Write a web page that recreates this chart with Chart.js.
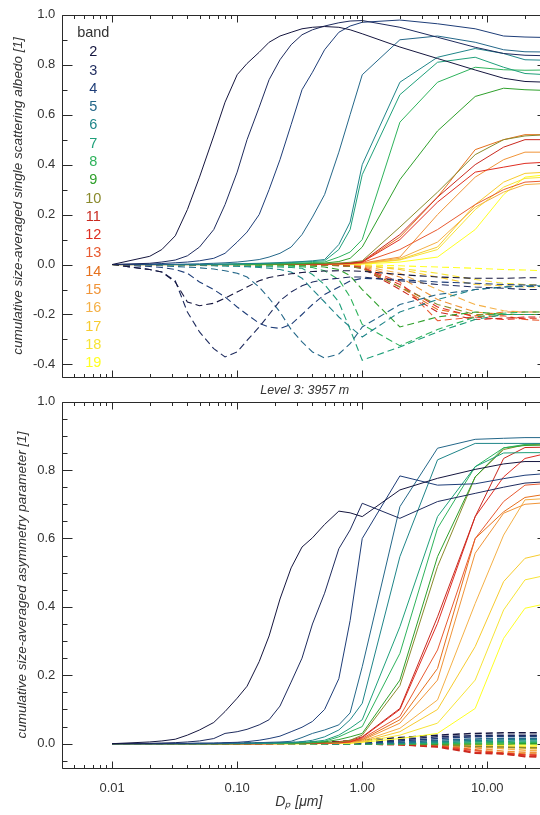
<!DOCTYPE html>
<html><head><meta charset="utf-8">
<script src="https://cdn.jsdelivr.net/npm/chart.js@4.4.0/dist/chart.umd.min.js"></script>
<style>
html,body{margin:0;padding:0;background:#fff;overflow:hidden;width:540px;height:815px;}
#w1{position:absolute;left:0;top:0;width:560px;height:400px;}
#w2{position:absolute;left:0;top:380px;width:560px;height:435px;}
</style></head><body>
<div id="w1"><canvas id="c1" width="560" height="400"></canvas></div>
<div id="w2"><canvas id="c2" width="560" height="435"></canvas></div>
<script>
// particle diameter nodes [µm]
const dp = [0.01,0.02,0.025,0.032,0.04,0.05,0.065,0.08,0.1,0.12,0.15,0.18,0.22,0.27,0.33,0.4,0.5,0.65,0.8,1.0,2.0,4.0,8.0,13.5,20,30];
const bands = [2,3,4,5,6,7,8,9,10,11,12,13,14,15,16,17,18,19];
const bandColors = ['#15163f','#1e2b5e','#1e3d78','#246789','#1f8589','#1fa07a','#2eb35c','#2fa02c','#8a8a2c','#c9291f','#df2e22','#e85a30','#e6701c','#f09438','#f4b046','#f7cb2e','#f7e436','#ffff22'];
const xTickVals = [0.01,0.1,1,10];
const xTickLabels = ['0.01','0.10','1.00','10.00'];
const yTicksTop = [-0.4,-0.2,0,0.2,0.4,0.6,0.8,1.0];
const yTicksBot = [0,0.2,0.4,0.6,0.8,1.0];

// top panel: single scattering albedo, solid
const ssaS2 = [0,.033,.06,.115,.22,.35,.515,.65,.76,.805,.85,.89,.915,.93,.944,.95,.953,.95,.94,.924,.871,.825,.779,.746,.733,.73];
const ssaS3 = [0,.005,.01,.018,.035,.07,.14,.24,.37,.5,.63,.74,.82,.88,.92,.94,.955,.968,.975,.977,.95,.91,.87,.845,.838,.836];
const ssaS4 = [0,.002,.004,.007,.01,.015,.025,.045,.09,.13,.2,.3,.42,.56,.7,.77,.86,.93,.955,.97,.979,.964,.944,.915,.911,.909];
const ssaS5 = [0,0,0,.001,.002,.003,.005,.007,.01,.014,.02,.03,.045,.07,.12,.19,.28,.45,.6,.76,.9,.915,.89,.86,.852,.851];
const ssaS6 = [0,0,0,0,0,0,.001,.002,.003,.004,.005,.006,.008,.01,.012,.015,.02,.08,.17,.40,.73,.83,.865,.845,.82,.818];
const ssaS7 = [0,0,0,0,0,0,.001,.001,.002,.003,.004,.005,.006,.008,.01,.012,.015,.06,.14,.36,.68,.81,.83,.79,.765,.76];
const ssaS8 = [0,0,0,0,0,0,0,.001,.001,.002,.002,.003,.004,.005,.006,.008,.01,.03,.05,.10,.57,.73,.79,.78,.778,.779];
const ssaS9 = [0,0,0,0,0,0,0,0,.001,.001,.001,.002,.002,.003,.004,.005,.006,.012,.025,.07,.34,.535,.673,.706,.70,.697];
const ssaS10 = [0,0,0,0,0,0,0,0,0,0,.001,.001,.001,.002,.002,.003,.004,.006,.009,.015,.15,.29,.44,.50,.515,.52];
const ssaS11 = [0,0,0,0,0,0,0,0,0,0,0,.001,.001,.001,.002,.002,.003,.004,.006,.012,.12,.27,.40,.47,.50,.50];
const ssaS12 = [0,0,0,0,0,0,0,0,0,0,0,0,.001,.001,.001,.002,.002,.003,.005,.01,.10,.25,.37,.39,.405,.41];
const ssaS13 = [0,0,0,0,0,0,0,0,0,0,0,0,.001,.001,.001,.001,.002,.003,.004,.008,.06,.14,.24,.30,.33,.335];
const ssaS14 = [0,0,0,0,0,0,0,0,0,0,0,0,.001,.001,.001,.002,.002,.003,.005,.01,.11,.27,.46,.50,.52,.52];
const ssaS15 = [0,0,0,0,0,0,0,0,0,0,0,0,0,.001,.001,.001,.001,.002,.003,.006,.03,.20,.35,.42,.45,.45];
const ssaS16 = [0,0,0,0,0,0,0,0,0,0,0,0,0,0,.001,.001,.001,.002,.003,.005,.025,.09,.23,.29,.32,.325];
const ssaS17 = [0,0,0,0,0,0,0,0,0,0,0,0,0,0,0,.001,.001,.001,.002,.004,.02,.07,.24,.33,.365,.37];
const ssaS18 = [0,0,0,0,0,0,0,0,0,0,0,0,0,0,0,0,.001,.001,.002,.003,.018,.06,.22,.31,.345,.35];
const ssaS19 = [0,0,0,0,0,0,0,0,0,0,0,0,0,0,0,0,0,.001,.001,.002,.01,.03,.14,.28,.35,.36];
// top panel, dashed
const ssaD2 = [0,-.02,-.03,-.07,-.15,-.165,-.155,-.135,-.11,-.09,-.065,-.052,-.044,-.037,-.032,-.028,-.026,-.025,-.025,-.027,-.04,-.05,-.055,-.055,-.053,-.053];
const ssaD3 = [0,-.02,-.03,-.065,-.19,-.27,-.337,-.37,-.35,-.304,-.25,-.2,-.145,-.11,-.085,-.07,-.06,-.055,-.05,-.05,-.065,-.08,-.09,-.095,-.1,-.1];
const ssaD4 = [0,-.008,-.012,-.02,-.035,-.07,-.1,-.13,-.17,-.2,-.235,-.25,-.256,-.24,-.2,-.16,-.12,-.09,-.066,-.055,-.06,-.07,-.075,-.08,-.082,-.083];
const ssaD5 = [0,-.003,-.005,-.008,-.01,-.013,-.018,-.025,-.035,-.05,-.09,-.135,-.19,-.26,-.31,-.35,-.374,-.358,-.317,-.25,-.16,-.12,-.1,-.09,-.088,-.088];
const ssaD6 = [0,-.001,-.002,-.002,-.003,-.004,-.005,-.006,-.007,-.009,-.012,-.015,-.02,-.03,-.055,-.1,-.15,-.21,-.25,-.29,-.19,-.14,-.1,-.09,-.085,-.085];
const ssaD7 = [0,-.001,-.001,-.002,-.002,-.003,-.004,-.005,-.006,-.007,-.008,-.009,-.01,-.012,-.015,-.04,-.08,-.15,-.26,-.383,-.33,-.27,-.22,-.2,-.2,-.2];
const ssaD8 = [0,0,0,-.001,-.001,-.001,-.002,-.002,-.003,-.003,-.004,-.005,-.006,-.007,-.009,-.012,-.025,-.06,-.13,-.24,-.325,-.26,-.21,-.195,-.19,-.19];
const ssaD9 = [0,0,0,0,0,-.001,-.001,-.001,-.001,-.002,-.002,-.003,-.003,-.004,-.005,-.007,-.01,-.02,-.045,-.1,-.25,-.21,-.19,-.2,-.2,-.2];
const ssaD10 = [0,0,0,0,0,0,0,0,0,0,0,0,-.001,-.001,-.001,-.002,-.003,-.005,-.008,-.015,-.09,-.16,-.2,-.2,-.2,-.2];
const ssaD11 = [0,0,0,0,0,0,0,0,0,0,0,0,-.001,-.001,-.001,-.002,-.003,-.005,-.008,-.015,-.1,-.19,-.22,-.215,-.21,-.21];
const ssaD12 = [0,0,0,0,0,0,0,0,0,0,0,0,0,-.001,-.001,-.001,-.002,-.004,-.007,-.012,-.08,-.17,-.21,-.22,-.215,-.215];
const ssaD13 = [0,0,0,0,0,0,0,0,0,0,0,0,0,-.001,-.001,-.001,-.002,-.003,-.006,-.01,-.07,-.225,-.21,-.205,-.22,-.225];
const ssaD14 = [0,0,0,0,0,0,0,0,0,0,0,0,0,-.001,-.001,-.001,-.002,-.004,-.007,-.012,-.09,-.18,-.205,-.19,-.19,-.19];
const ssaD15 = [0,0,0,0,0,0,0,0,0,0,0,0,0,0,-.001,-.001,-.001,-.002,-.004,-.008,-.05,-.14,-.19,-.2,-.2,-.2];
const ssaD16 = [0,0,0,0,0,0,0,0,0,0,0,0,0,0,-.001,-.001,-.001,-.002,-.003,-.006,-.035,-.1,-.16,-.185,-.19,-.19];
const ssaD17 = [0,0,0,0,0,0,0,0,0,0,0,0,0,0,0,-.001,-.001,-.001,-.002,-.004,-.02,-.05,-.08,-.085,-.09,-.09];
const ssaD18 = [0,0,0,0,0,0,0,0,0,0,0,0,0,0,0,0,-.001,-.001,-.002,-.003,-.015,-.035,-.06,-.075,-.08,-.082];
const ssaD19 = [0,0,0,0,0,0,0,0,0,0,0,0,0,0,0,0,0,0,-.001,-.001,-.005,-.01,-.015,-.02,-.022,-.025];
// bottom panel: asymmetry parameter, solid
const asyS2 = [0,.005,.008,.013,.025,.04,.062,.094,.133,.168,.24,.315,.423,.514,.575,.602,.641,.68,.675,.664,.742,.776,.802,.818,.825,.825];
const asyS3 = [0,.001,.002,.003,.005,.008,.015,.03,.035,.042,.055,.07,.11,.18,.25,.35,.44,.57,.625,.703,.659,.708,.732,.75,.762,.766];
const asyS4 = [0,0,0,.001,.001,.002,.002,.003,.004,.006,.01,.015,.022,.035,.048,.065,.1,.19,.36,.6,.783,.756,.76,.775,.785,.79];
const asyS5 = [0,0,0,0,0,0,.001,.001,.002,.002,.003,.004,.005,.007,.018,.03,.04,.055,.09,.225,.693,.864,.89,.893,.895,.895];
const asyS6 = [0,0,0,0,0,0,0,.001,.001,.001,.002,.002,.003,.004,.006,.01,.02,.04,.07,.118,.547,.83,.878,.878,.878,.878];
const asyS7 = [0,0,0,0,0,0,0,0,.001,.001,.001,.001,.002,.003,.004,.006,.01,.025,.045,.07,.342,.664,.81,.85,.851,.851];
const asyS8 = [0,0,0,0,0,0,0,0,0,.001,.001,.001,.001,.002,.003,.004,.007,.02,.035,.05,.264,.63,.81,.865,.875,.878];
const asyS9 = [0,0,0,0,0,0,0,0,0,0,.001,.001,.001,.001,.002,.003,.005,.012,.02,.03,.186,.547,.78,.865,.872,.873];
const asyS10 = [0,0,0,0,0,0,0,0,0,0,0,.001,.001,.001,.001,.002,.003,.004,.01,.025,.17,.518,.78,.86,.874,.876];
const asyS11 = [0,0,0,0,0,0,0,0,0,0,0,.001,.001,.001,.001,.002,.003,.006,.01,.02,.103,.371,.664,.834,.866,.867];
const asyS12 = [0,0,0,0,0,0,0,0,0,0,0,0,.001,.001,.001,.001,.002,.003,.005,.018,.1,.352,.664,.78,.834,.849];
const asyS13 = [0,0,0,0,0,0,0,0,0,0,0,0,.001,.001,.001,.001,.002,.004,.008,.015,.08,.274,.6,.708,.756,.761];
const asyS14 = [0,0,0,0,0,0,0,0,0,0,0,0,0,.001,.001,.001,.001,.002,.006,.012,.07,.22,.6,.678,.72,.73];
const asyS15 = [0,0,0,0,0,0,0,0,0,0,0,0,0,.001,.001,.001,.001,.002,.005,.01,.06,.186,.557,.674,.70,.705];
const asyS16 = [0,0,0,0,0,0,0,0,0,0,0,0,0,0,.001,.001,.001,.002,.004,.008,.045,.128,.41,.61,.713,.717];
const asyS17 = [0,0,0,0,0,0,0,0,0,0,0,0,0,0,0,.001,.001,.001,.003,.006,.035,.1,.284,.474,.542,.557];
const asyS18 = [0,0,0,0,0,0,0,0,0,0,0,0,0,0,0,0,.001,.001,.002,.005,.025,.06,.186,.391,.479,.493];
const asyS19 = [0,0,0,0,0,0,0,0,0,0,0,0,0,0,0,0,0,.001,.001,.004,.015,.03,.103,.308,.396,.41];
// bottom panel, dashed
const asyD2 = [0,0,0,0,0,0,0,.001,.001,.001,.002,.002,.003,.003,.004,.005,.005,.006,.008,.01,.018,.025,.03,.032,.032,.032];
const asyD3 = [0,0,0,0,0,0,0,0,0,.001,.001,.001,.002,.002,.002,.003,.003,.004,.004,.005,.012,.02,.024,.025,.025,.025];
const asyD4 = [0,0,0,0,0,0,0,0,0,0,0,0,.001,.001,.001,.001,.002,.002,.002,.003,.008,.015,.02,.021,.022,.022];
const asyD5 = [0,0,0,0,0,0,0,0,0,0,0,0,0,0,0,.001,.001,.001,.001,.002,.004,.01,.014,.015,.016,.016];
const asyD6 = [0,0,0,0,0,0,0,0,0,0,0,0,0,0,0,0,0,0,.001,.001,.002,.006,.01,.011,.012,.012];
const asyD7 = [0,0,0,0,0,0,0,0,0,0,0,0,0,0,0,0,0,0,0,0,.001,.003,.006,.007,.008,.008];
const asyD8 = [0,0,0,0,0,0,0,0,0,0,0,0,0,0,0,0,0,0,0,0,0,.001,.002,.003,.004,.004];
const asyD9 = [0,0,0,0,0,0,0,0,0,0,0,0,0,0,0,0,0,0,0,0,0,-.001,-.001,-.001,0,0];
const asyD10 = [0,0,0,0,0,0,0,0,0,0,0,0,0,0,0,0,0,0,0,0,-.001,-.003,-.008,-.01,-.012,-.012];
const asyD11 = [0,0,0,0,0,0,0,0,0,0,0,0,0,0,0,0,0,0,0,-.001,-.003,-.01,-.028,-.03,-.038,-.04];
const asyD12 = [0,0,0,0,0,0,0,0,0,0,0,0,0,0,0,0,0,0,0,-.001,-.003,-.008,-.025,-.028,-.033,-.035];
const asyD13 = [0,0,0,0,0,0,0,0,0,0,0,0,0,0,0,0,0,0,0,-.001,-.002,-.006,-.02,-.03,-.036,-.038];
const asyD14 = [0,0,0,0,0,0,0,0,0,0,0,0,0,0,0,0,0,0,0,0,-.002,-.005,-.018,-.027,-.03,-.03];
const asyD15 = [0,0,0,0,0,0,0,0,0,0,0,0,0,0,0,0,0,0,0,0,-.001,-.003,-.012,-.022,-.025,-.025];
const asyD16 = [0,0,0,0,0,0,0,0,0,0,0,0,0,0,0,0,0,0,0,0,-.001,-.002,-.008,-.015,-.019,-.02];
const asyD17 = [0,0,0,0,0,0,0,0,0,0,0,0,0,0,0,0,0,0,0,0,0,-.001,-.004,-.01,-.013,-.015];
const asyD18 = [0,0,0,0,0,0,0,0,0,0,0,0,0,0,0,0,0,0,0,0,0,0,-.002,-.006,-.009,-.01];
const asyD19 = [0,0,0,0,0,0,0,0,0,0,0,0,0,0,0,0,0,0,0,0,0,0,-.001,-.003,-.004,-.005];

const ssaSolid = [ssaS2,ssaS3,ssaS4,ssaS5,ssaS6,ssaS7,ssaS8,ssaS9,ssaS10,ssaS11,ssaS12,ssaS13,ssaS14,ssaS15,ssaS16,ssaS17,ssaS18,ssaS19];
const ssaDash = [ssaD2,ssaD3,ssaD4,ssaD5,ssaD6,ssaD7,ssaD8,ssaD9,ssaD10,ssaD11,ssaD12,ssaD13,ssaD14,ssaD15,ssaD16,ssaD17,ssaD18,ssaD19];
const asySolid = [asyS2,asyS3,asyS4,asyS5,asyS6,asyS7,asyS8,asyS9,asyS10,asyS11,asyS12,asyS13,asyS14,asyS15,asyS16,asyS17,asyS18,asyS19];
const asyDash = [asyD2,asyD3,asyD4,asyD5,asyD6,asyD7,asyD8,asyD9,asyD10,asyD11,asyD12,asyD13,asyD14,asyD15,asyD16,asyD17,asyD18,asyD19];

const FONT = '"Liberation Sans", Arial, Helvetica, sans-serif';
const INK = '#333';

function toPts(arr){ return arr.map((v,i)=>({x:dp[i], y:v})); }
function buildSets(solid, dash, dashWidth){
  const sets = [];
  bands.forEach((b,i)=>{
    sets.push({label:'band '+b, data:toPts(solid[i]), borderColor:bandColors[i], borderWidth:1, pointRadius:0, fill:false, tension:0});
  });
  bands.forEach((b,i)=>{
    sets.push({label:'band '+b+' dashed', data:toPts(dash[i]), borderColor:bandColors[i], borderWidth:dashWidth, borderDash:[7,4], pointRadius:0, fill:false, tension:0});
  });
  return sets;
}

// frame with inward tick marks, computed through the chart scales
const frameTicks = {
  id:'frameTicks',
  afterDatasetsDraw(chart, args, opts){
    const {ctx, chartArea:a, scales:{x, y}} = chart;
    ctx.save();
    ctx.strokeStyle = '#2a2a2a';
    ctx.lineWidth = 1;
    ctx.beginPath();
    const L = Math.round(a.left)+0.5, R = Math.round(a.right)+0.5, T = Math.round(a.top)+0.5, B = Math.round(a.bottom)+0.5;
    ctx.moveTo(L,T); ctx.lineTo(R,T); ctx.lineTo(R,B); ctx.lineTo(L,B); ctx.closePath();
    const xmaj = [], xmin = [];
    for (let e=-3; e<=1; e++){
      for (let k=1;k<=9;k++){
        const v = k*Math.pow(10,e);
        if (v < x.min*0.999 || v > x.max*1.001) continue;
        (k===1 ? xmaj : xmin).push(v);
      }
    }
    xmaj.forEach(v=>{ const px = Math.round(x.getPixelForValue(v))+0.5; ctx.moveTo(px,B); ctx.lineTo(px,B-7); ctx.moveTo(px,T); ctx.lineTo(px,T+7); });
    xmin.forEach(v=>{ const px = Math.round(x.getPixelForValue(v))+0.5; ctx.moveTo(px,B); ctx.lineTo(px,B-3.5); ctx.moveTo(px,T); ctx.lineTo(px,T+3.5); });
    opts.yMajor.forEach(v=>{ const py = Math.round(y.getPixelForValue(v))+0.5; ctx.moveTo(L,py); ctx.lineTo(L+10,py); ctx.moveTo(R,py); ctx.lineTo(R-10,py); });
    opts.yMinor.forEach(v=>{ const py = Math.round(y.getPixelForValue(v))+0.5; ctx.moveTo(L,py); ctx.lineTo(L+5,py); ctx.moveTo(R,py); ctx.lineTo(R-5,py); });
    ctx.stroke();
    ctx.restore();
  }
};

const bandLegend = {
  id:'bandLegend',
  afterDraw(chart){
    const {ctx, chartArea:a} = chart;
    ctx.save();
    ctx.font = '14.5px '+FONT;
    ctx.textAlign = 'center';
    ctx.textBaseline = 'middle';
    ctx.fillStyle = INK;
    const cx = a.left + 31;
    ctx.fillText('band', cx, a.top + 18.5);
    bands.forEach((b,i)=>{
      ctx.fillStyle = bandColors[i];
      ctx.fillText(String(b), cx, a.top + 37.5 + 18.28*i);
    });
    ctx.restore();
  }
};

function makeChart(id, cfg){
  return new Chart(document.getElementById(id), {
    type:'line',
    data:{datasets: cfg.sets},
    options:{
      responsive:false, animation:false, events:[],
      layout:{padding:{top:cfg.padTop, right:13, bottom:0, left:0}},
      plugins:{legend:{display:false}, tooltip:{enabled:false},
        frameTicks:{yMajor:cfg.yMajor, yMinor:cfg.yMinor}},
      scales:{
        x:{type:'logarithmic', min:0.004, max:30, position:'bottom',
          grid:{display:false, drawTicks:false}, border:{display:false},
          afterBuildTicks:(s)=>{ s.ticks = xTickVals.map(v=>({value:v})); },
          ticks:{display:cfg.xLabels, autoSkip:false, maxRotation:0, padding:cfg.xTickPad, color:INK,
            font:{family:FONT, size:13},
            callback:(v)=> xTickLabels[xTickVals.indexOf(v)]},
          title:{display:true, text:cfg.xTitle, color:INK,
            font:{family:FONT, size:cfg.xTitleSize, style:'italic'}, padding:{top:0, bottom:cfg.xTitlePad}},
          afterFit:(s)=>{ s.height = cfg.xHeight; }
        },
        y:{min:cfg.ymin, max:cfg.ymax,
          grid:{display:false, drawTicks:false}, border:{display:false},
          afterBuildTicks:(s)=>{ s.ticks = cfg.yMajor.map(v=>({value:v})); },
          ticks:{padding:7, color:INK, font:{family:FONT, size:13},
            callback:(v)=> Number(v).toFixed(1)},
          title:{display:true, text:cfg.yTitle, color:INK,
            font:{family:FONT, size:13.5, style:'italic'}, padding:{top:cfg.yTitlePad, bottom:0}},
          afterFit:(s)=>{ s.width = 62.3; }
        }
      }
    },
    plugins: cfg.legend ? [frameTicks, bandLegend] : [frameTicks]
  });
}

makeChart('c1', {
  sets: buildSets(ssaSolid, ssaDash, 1.1),
  padTop: 10.7, xHeight: 22.7, xLabels:false, xTickPad:0,
  xTitle:'Level 3: 3957 m', xTitleSize:12.5, xTitlePad:1.5,
  ymin:-0.4515, ymax:1.0,
  yMajor: yTicksTop, yMinor:[-0.3,-0.1,0.1,0.3,0.5,0.7,0.9],
  yTitle:'cumulative size-averaged single scattering albedo [1]', yTitlePad:10,
  legend:true
});
makeChart('c2', {
  sets: buildSets(asySolid, asyDash, 1.5),
  padTop: 21.7, xHeight: 46.7, xLabels:true, xTickPad:12,
  xTitle:'Dₚ [μm]   ', xTitleSize:14, xTitlePad:4,
  ymin:-0.072, ymax:1.0,
  yMajor: yTicksBot, yMinor:[-0.05,0.05,0.1,0.15,0.25,0.3,0.35,0.45,0.5,0.55,0.65,0.7,0.75,0.85,0.9,0.95],
  yTitle:'cumulative size-averaged asymmetry parameter [1]', yTitlePad:14,
  legend:false
});
</script>
</body></html>
